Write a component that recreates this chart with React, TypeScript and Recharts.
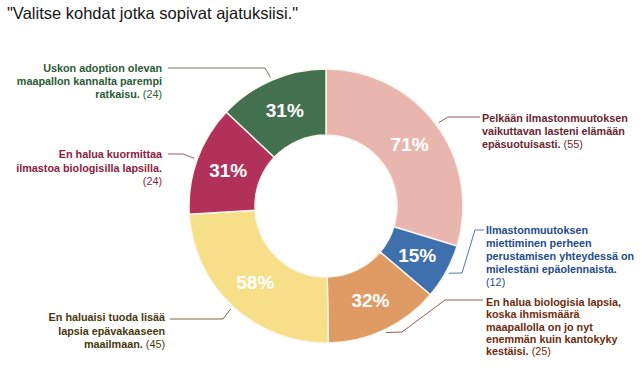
import { Cell, Pie, PieChart } from "recharts";

const counts = [55, 12, 25, 45, 24, 24];
const percents = [71, 15, 32, 58, 31, 31];
const statements = [
  ["Pelkään ilmastonmuutoksen", "vaikuttavan lasteni elämään", "epäsuotuisasti."],
  ["Ilmastonmuutoksen", "miettiminen perheen", "perustamisen yhteydessä on", "mielestäni epäolennaista.", ""],
  ["En halua biologisia lapsia,", "koska ihmismäärä", "maapallolla on jo nyt", "enemmän kuin kantokyky", "kestäisi."],
  ["En haluaisi tuoda lisää", "lapsia epävakaaseen", "maailmaan."],
  ["En halua kuormittaa", "ilmastoa biologisilla lapsilla.", ""],
  ["Uskon adoption olevan", "maapallon kannalta parempi", "ratkaisu."],
];
const title = "\"Valitse kohdat jotka sopivat ajatuksiisi.\"";

const fills = ["#e9b6af", "#3e70ad", "#df9b63", "#f6df88", "#b2315a", "#437150"];
const textColors = ["#6b2530", "#1f4c8c", "#6e2c0c", "#463a0c", "#8c1c3e", "#2c5a37"];

// leader line bends and text placement, relative to the pie centre
const labelLayout = [
  { path: [[122, -89], [154, -89]], x: 156, y: -84, lh: 13, anchor: "start" },
  { path: [[136, 67], [149, 24], [158, 24]], x: 160, y: 28, lh: 13, anchor: "start" },
  { path: [[76, 126], [119, 94], [157, 94]], x: 160, y: 100, lh: 12.3, anchor: "start" },
  { path: [[-103, 113], [-156, 113]], x: -161, y: 115, lh: 13.5, anchor: "end" },
  { path: [[-143, -52], [-158, -52]], x: -164, y: -48, lh: 13.5, anchor: "end" },
  { path: [[-61, -138], [-158, -138]], x: -164, y: -134, lh: 13, anchor: "end" },
];

const data = counts.map((value, i) => ({ name: statements[i].join(" "), value }));
const RAD = Math.PI / 180;

function renderLabel(props: any) {
  const { cx, cy, midAngle, innerRadius, outerRadius, index } = props;
  const mr = (innerRadius + outerRadius) / 2;
  const px = cx + mr * Math.cos(-midAngle * RAD);
  const py = cy + mr * Math.sin(-midAngle * RAD);
  const ar = outerRadius + 3;
  const ax = cx + ar * Math.cos(-midAngle * RAD);
  const ay = cy + ar * Math.sin(-midAngle * RAD);
  const lay = labelLayout[index];
  const pts = [[ax, ay], ...lay.path.map(([dx, dy]) => [cx + dx, cy + dy])];
  const lines = statements[index];
  return (
    <g key={`lbl-${index}`}>
      <text x={px} y={py} textAnchor="middle" dominantBaseline="central" fill="#fff" fontSize={19} fontWeight={700} fontFamily="Liberation Sans, Arial, sans-serif">
        {percents[index]}%
      </text>
      <polyline points={pts.map((p) => p.join(",")).join(" ")} fill="none" stroke={textColors[index]} strokeOpacity={0.75} strokeWidth={1} />
      <text x={cx + lay.x} y={cy + lay.y} textAnchor={lay.anchor} fill={textColors[index]} fontSize={10.8} fontWeight={700} fontFamily="Liberation Sans, Arial, sans-serif">
        {lines.map((line, j) => (
          <tspan key={j} x={cx + lay.x} y={cy + lay.y + j * lay.lh}>
            {line}
            {j === lines.length - 1 ? (
              <tspan fontWeight={400}>{line ? " " : ""}({counts[index]})</tspan>
            ) : null}
          </tspan>
        ))}
      </text>
    </g>
  );
}

export default function App() {
  return (
    <div style={{ position: "absolute", left: 0, top: 0, width: 642, height: 372, background: "#fff" }}>
      <PieChart width={642} height={372}>
        <text x={7} y={19} fill="#151515" fontSize={16.5} fontFamily="Liberation Sans, Arial, sans-serif">
          {title}
        </text>
        <Pie
          data={data}
          dataKey="value"
          cx={321}
          cy={201}
          innerRadius={71}
          outerRadius={137}
          startAngle={90}
          endAngle={-270}
          stroke="#fbf6ee"
          strokeWidth={1.5}
          label={renderLabel}
          labelLine={false}
          isAnimationActive={false}
        >
          {data.map((_, i) => (
            <Cell key={i} fill={fills[i]} />
          ))}
        </Pie>
      </PieChart>
    </div>
  );
}
